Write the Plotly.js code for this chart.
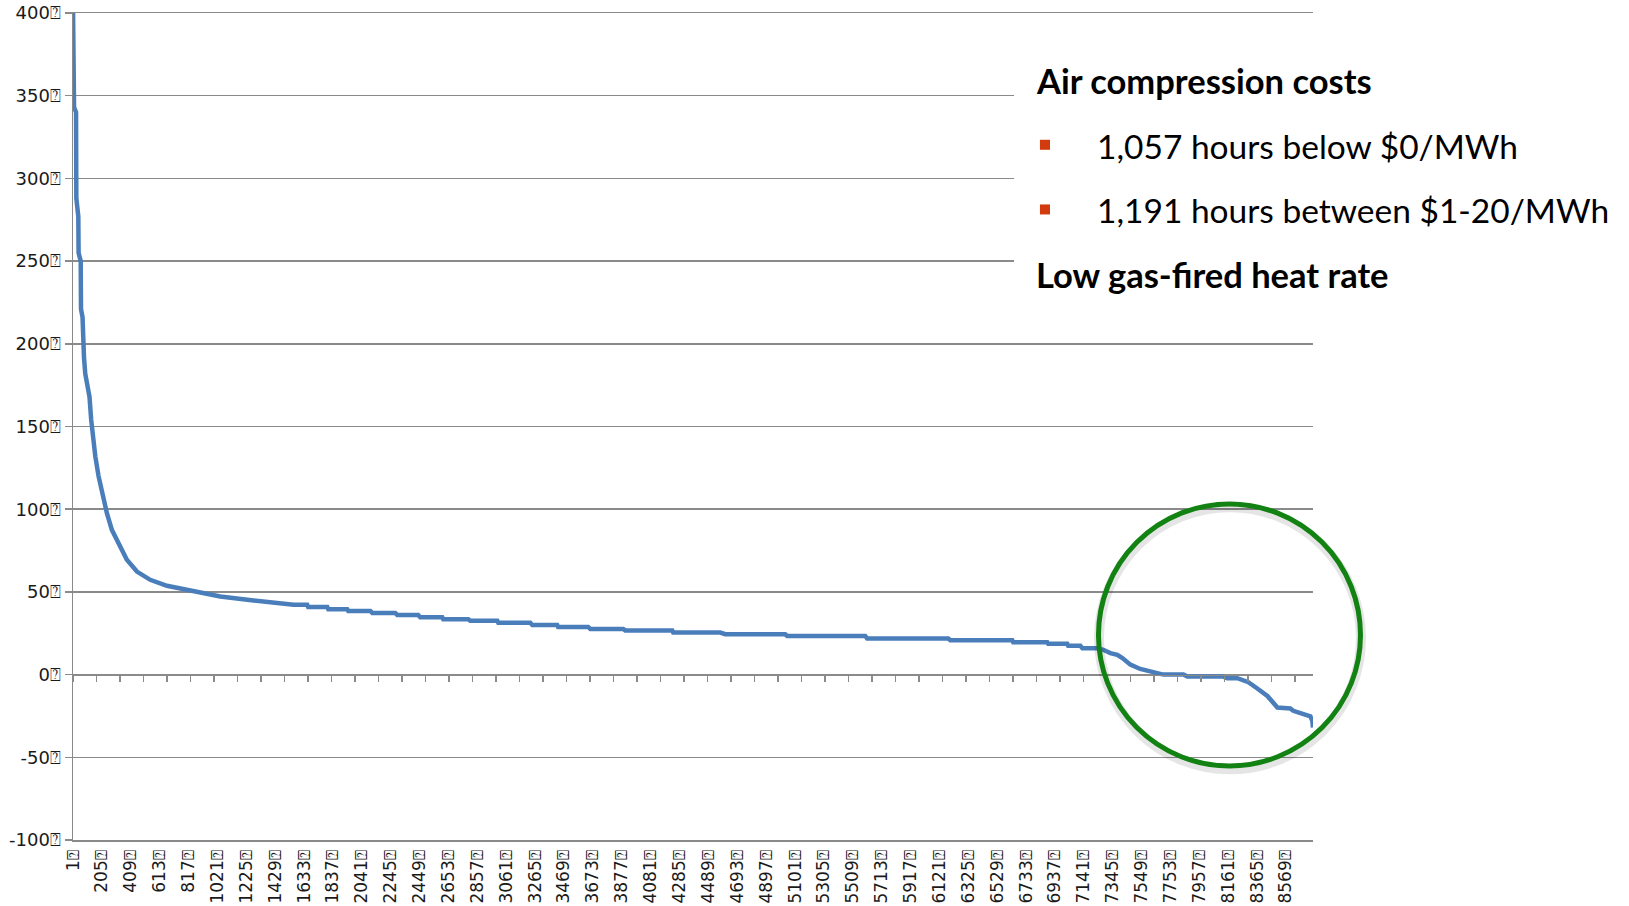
<!DOCTYPE html>
<html>
<head>
<meta charset="utf-8">
<script src="https://cdn.plot.ly/plotly-3.0.1.min.js"></script>
<style>html,body{margin:0;padding:0;background:#fff;}#chart{width:1629px;height:906px;}</style>
</head>
<body>
<div id="chart"></div>
<script>
// Hour rank (sorted price duration curve) and price in $/MWh
const hours = [1, 8, 22, 24, 38, 40, 55, 57, 68, 71, 78, 87, 117, 129, 141, 158, 181, 205, 240, 275, 322, 381, 452, 546, 664, 852, 1041, 1276, 1558, 1655, 1662, 1797, 1804, 1938, 1945, 2101, 2115, 2277, 2291, 2439, 2453, 2609, 2616, 2793, 2807, 2998, 3005, 3231, 3245, 3421, 3428, 3640, 3655, 3888, 3902, 4234, 4241, 4573, 4608, 5032, 5046, 5597, 5611, 6184, 6198, 6636, 6643, 6883, 6890, 7024, 7031, 7117, 7131, 7237, 7279, 7329, 7378, 7414, 7470, 7540, 7632, 7703, 7845, 7873, 8127, 8155, 8226, 8304, 8367, 8438, 8509, 8600, 8621, 8692, 8742, 8756, 8760];
const prices = [400, 343, 340, 288, 277, 255, 250, 221, 216, 197, 192, 182, 168, 154, 144, 132, 120, 110, 97.6, 87.5, 79.5, 69.4, 62.3, 57.3, 53.7, 50.2, 47.2, 44.8, 42.2, 42.2, 40.8, 40.8, 39.5, 39.5, 38.5, 38.5, 37.3, 37.3, 36.1, 36.1, 34.7, 34.7, 33.5, 33.5, 32.5, 32.5, 31.3, 31.3, 30, 30, 28.8, 28.8, 27.6, 27.6, 26.6, 26.6, 25.4, 25.4, 24.4, 24.4, 23.4, 23.4, 21.8, 21.8, 20.8, 20.8, 19.6, 19.6, 18.6, 18.6, 17.4, 17.4, 16, 16, 15, 13, 12, 10, 6, 3.4, 1.4, 0, 0, -1.2, -1.2, -2.2, -2.2, -4.6, -8.4, -12.9, -19.9, -20.5, -21.9, -23.9, -25.3, -28, -32];

const yTickVals = [-100, -50, 0, 50, 100, 150, 200, 250, 300, 350, 400];
const yTickText = ['-100⍰', '-50⍰', '0⍰', '50⍰', '100⍰', '150⍰', '200⍰', '250⍰', '300⍰', '350⍰', '400⍰'];
const xTickVals = [1, 205, 409, 613, 817, 1021, 1225, 1429, 1633, 1837, 2041, 2245, 2449, 2653, 2857, 3061, 3265, 3469, 3673, 3877, 4081, 4285, 4489, 4693, 4897, 5101, 5305, 5509, 5713, 5917, 6121, 6325, 6529, 6733, 6937, 7141, 7345, 7549, 7753, 7957, 8161, 8365, 8569];
const xTickText = xTickVals.map(v => v + '⍰');

const headings = ['Air compression costs', 'Low gas-fired heat rate'];
const bullets = ['1,057 hours below $0/MWh', '1,191 hours between $1-20/MWh'];

const GRID = '#8a8a8a';
const yTickFont = {family: 'DejaVu Sans, Verdana, sans-serif', size: 18, color: '#1a1a1a'};
const xTickFont = {family: 'DejaVu Sans, Verdana, sans-serif', size: 17, color: '#1a1a1a'};
const headFont = {family: 'Lato, Calibri, sans-serif', size: 34.5, color: '#000000'};
const bulletFont = {family: 'Lato, Calibri, sans-serif', size: 33.5, color: '#000000'};
const BULLET = '#d13b0d';

const traces = [
  {
    x: hours, y: prices, type: 'scatter', mode: 'lines',
    line: {color: '#4a7ebb', width: 4.5},
    hoverinfo: 'skip', showlegend: false
  },
  {
    x: [hours[0]], y: [prices[0]], xaxis: 'x2', yaxis: 'y', type: 'scatter', mode: 'none',
    hoverinfo: 'skip', showlegend: false
  }
];

const layout = {
  width: 1629, height: 906,
  margin: {l: 73, r: 316, t: 13, b: 66, pad: 0},
  paper_bgcolor: '#ffffff', plot_bgcolor: '#ffffff',
  showlegend: false,
  xaxis: {
    range: [0.5, 8760.5], tickmode: 'array', tickvals: xTickVals, ticktext: xTickText,
    tickangle: -90, ticks: '', showgrid: false, zeroline: false,
    showline: true, mirror: true, linecolor: GRID, linewidth: 1.5,
    tickfont: xTickFont, ticklabelstandoff: 2
  },
  xaxis2: {
    overlaying: 'x', anchor: 'free', position: 0.2,
    range: [0.5, 8760.5], tickmode: 'linear', tick0: 0.5, dtick: 166,
    ticks: 'outside', ticklen: 6, tickwidth: 1.5, tickcolor: GRID,
    showticklabels: false, showline: true, linecolor: GRID, linewidth: 1.5,
    showgrid: false, zeroline: false
  },
  yaxis: {
    range: [-100, 400], tickmode: 'array', tickvals: yTickVals, ticktext: yTickText,
    ticks: 'outside', ticklen: 7, tickwidth: 1.5, tickcolor: GRID,
    showline: true, linecolor: GRID, linewidth: 1.5,
    showgrid: true, gridcolor: GRID, gridwidth: 1.5, zeroline: false,
    tickfont: yTickFont
  },
  shapes: [
    {type: 'rect', xref: 'paper', yref: 'paper', x0: 0.7589, x1: 1.26, y0: 0.629, y1: 0.98,
     fillcolor: '#ffffff', line: {width: 0}, layer: 'above'},
    {type: 'rect', xref: 'paper', yref: 'paper', x0: 0.7798, x1: 0.7879, y0: 0.8346, y1: 0.8467,
     fillcolor: BULLET, line: {width: 0}, layer: 'above'},
    {type: 'rect', xref: 'paper', yref: 'paper', x0: 0.7798, x1: 0.7879, y0: 0.7564, y1: 0.7685,
     fillcolor: BULLET, line: {width: 0}, layer: 'above'},
    {type: 'circle', xref: 'paper', yref: 'paper', x0: 0.8274, x1: 1.0387, y0: 0.0855, y1: 0.4024,
     line: {color: 'rgba(0,0,0,0.10)', width: 10}, layer: 'above'},
    {type: 'circle', xref: 'paper', yref: 'paper', x0: 0.827, x1: 1.0383, y0: 0.0895, y1: 0.4064,
     line: {color: '#128212', width: 5}, layer: 'above'}
  ],
  annotations: [
    {text: '<b>' + headings[0] + '</b>', xref: 'paper', yref: 'paper', x: 0.7750, y: 0.9181,
     xanchor: 'left', yanchor: 'middle', showarrow: false, font: headFont},
    {text: bullets[0], xref: 'paper', yref: 'paper', x: 0.8242, y: 0.8395,
     xanchor: 'left', yanchor: 'middle', showarrow: false, font: bulletFont},
    {text: bullets[1], xref: 'paper', yref: 'paper', x: 0.8242, y: 0.7615,
     xanchor: 'left', yanchor: 'middle', showarrow: false, font: bulletFont},
    {text: '<b>' + headings[1] + '</b>', xref: 'paper', yref: 'paper', x: 0.7750, y: 0.6834,
     xanchor: 'left', yanchor: 'middle', showarrow: false, font: headFont}
  ]
};

Plotly.newPlot('chart', traces, layout, {displayModeBar: false, staticPlot: true});
</script>
</body>
</html>
